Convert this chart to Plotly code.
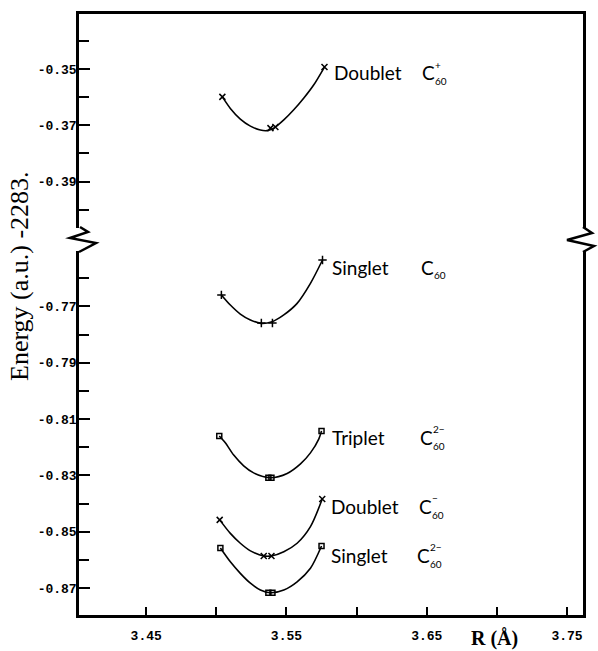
import plotly.graph_objects as go

# ---------------- data ----------------
# computed points (markers)
R_dplus = [3.5043, 3.5386, 3.5421, 3.5771]
E_dplus = [-0.3599, -0.3710, -0.3706, -0.3493]
R_s0 = [3.5036, 3.5321, 3.5400, 3.5757]
E_s0 = [-0.7659, -0.7759, -0.7759, -0.7535]
R_t2 = [3.5021, 3.5371, 3.5393, 3.5750]
E_t2 = [-0.8160, -0.8308, -0.8308, -0.8142]
R_dminus = [3.5024, 3.5338, 3.5393, 3.5755]
E_dminus = [-0.8458, -0.8586, -0.8586, -0.8384]
R_s2 = [3.5029, 3.5371, 3.5400, 3.5750]
E_s2 = [-0.8558, -0.8717, -0.8717, -0.8551]

# fitted curves
Rc_dplus = [3.5043, 3.5100, 3.5171, 3.5243, 3.5314, 3.5362, 3.5410, 3.5481, 3.5552, 3.5624, 3.5695, 3.5771]
Ec_dplus = [-0.3599, -0.3640, -0.3678, -0.3703, -0.3717, -0.3719, -0.3710, -0.3681, -0.3645, -0.3603, -0.3556, -0.3493]
Rc_s0 = [3.5036, 3.5100, 3.5171, 3.5243, 3.5319, 3.5398, 3.5481, 3.5576, 3.5671, 3.5757]
Ec_s0 = [-0.7659, -0.7695, -0.7727, -0.7748, -0.7760, -0.7754, -0.7730, -0.7689, -0.7618, -0.7535]
Rc_t2 = [3.5021, 3.5064, 3.5124, 3.5195, 3.5266, 3.5386, 3.5505, 3.5600, 3.5671, 3.5731, 3.5750]
Ec_t2 = [-0.8160, -0.8184, -0.8228, -0.8266, -0.8291, -0.8308, -0.8293, -0.8259, -0.8220, -0.8170, -0.8142]
Rc_dminus = [3.5024, 3.5100, 3.5171, 3.5243, 3.5338, 3.5393, 3.5481, 3.5576, 3.5671, 3.5755]
Ec_dminus = [-0.8458, -0.8506, -0.8541, -0.8568, -0.8586, -0.8586, -0.8571, -0.8541, -0.8482, -0.8384]
Rc_s2 = [3.5029, 3.5100, 3.5171, 3.5243, 3.5314, 3.5386, 3.5481, 3.5576, 3.5671, 3.5750]
Ec_s2 = [-0.8558, -0.8607, -0.8648, -0.8683, -0.8707, -0.8717, -0.8707, -0.8678, -0.8630, -0.8551]

x_ticks = [3.45, 3.55, 3.65, 3.75]
x_ticktext = ["3.45", "3.55", "3.65", "3.75"]
x_minor = [3.50, 3.60, 3.70]
y_top_ticks = [-0.35, -0.37, -0.39]
y_top_text = ["-0.35", "-0.37", "-0.39"]
y_top_minor = [-0.34, -0.36, -0.38, -0.40]
y_bot_ticks = [-0.77, -0.79, -0.81, -0.83, -0.85, -0.87]
y_bot_text = ["-0.77", "-0.79", "-0.81", "-0.83", "-0.85", "-0.87"]
y_bot_minor = [-0.76, -0.78, -0.80, -0.82, -0.84, -0.86]

# ---------------- figure ----------------
W, H = 598, 651
L, R, T, B = 79, 15, 14, 36
plot_h = H - T - B
def py(y):  # pixel row -> paper y
    return (H - B - y) / plot_h
def px(x):
    return (x - L) / (W - L - R)

top_dom = [py(228), 1.0]
bot_dom = [0.0, py(251)]

fig = go.Figure()

def add(Rc, Ec, Rm, Em, sym, size, yax, xax):
    fig.add_trace(go.Scatter(x=Rc, y=Ec, mode="lines", xaxis=xax, yaxis=yax,
                             line=dict(color="black", width=1.6, shape="spline",
                                       smoothing=0.8),
                             showlegend=False, hoverinfo="skip"))
    fig.add_trace(go.Scatter(x=Rm, y=Em, mode="markers", xaxis=xax, yaxis=yax,
                             marker=dict(symbol=sym, size=size, color="black",
                                         line=dict(color="black", width=1.5)),
                             showlegend=False, hoverinfo="skip"))

add(Rc_dplus, Ec_dplus, R_dplus, E_dplus, "x-thin-open", 6, "y2", "x2")
add(Rc_s0, Ec_s0, R_s0, E_s0, "cross-thin-open", 6, "y", "x")
add(Rc_t2, Ec_t2, R_t2, E_t2, "square-open", 5, "y", "x")
add(Rc_dminus, Ec_dminus, R_dminus, E_dminus, "x-thin-open", 6, "y", "x")
add(Rc_s2, Ec_s2, R_s2, E_s2, "square-open", 5, "y", "x")

axis_line = dict(showline=True, linecolor="black", linewidth=2.5, zeroline=False,
                 showgrid=False, automargin=False)
mono = dict(family="Liberation Mono", size=13, color="black", weight="bold")

fig.update_layout(
    width=W, height=H, margin=dict(l=L, r=R, t=T, b=B, autoexpand=False),
    paper_bgcolor="white", plot_bgcolor="white",
    xaxis=dict(domain=[0, 1], anchor="y", range=[3.4021, 3.7614],
               tickvals=x_ticks, ticktext=x_ticktext, ticks="inside", ticklen=8,
               tickwidth=1.5, tickcolor="black", tickfont=mono,
               ticklabelstandoff=7,
               minor=dict(tickvals=x_minor, ticks="inside", ticklen=8, tickwidth=1.5,
                          tickcolor="black"),
               **axis_line),
    xaxis2=dict(domain=[0, 1], anchor="y2", matches="x", side="top",
                showticklabels=False, ticks="", **axis_line),
    yaxis=dict(domain=bot_dom, anchor="x", range=[-0.87959, -0.75030],
               tickvals=y_bot_ticks, ticktext=y_bot_text, ticks="inside", ticklen=11,
               tickwidth=1.5, tickcolor="black", tickfont=mono, mirror=True,
               ticklabelstandoff=-3,
               minor=dict(tickvals=y_bot_minor, ticks="inside", ticklen=10,
                          tickwidth=1.5, tickcolor="black"),
               **axis_line),
    yaxis2=dict(domain=top_dom, anchor="x2", range=[-0.40648, -0.33046],
                tickvals=y_top_ticks, ticktext=y_top_text, ticks="inside", ticklen=11,
                tickwidth=1.5, tickcolor="black", tickfont=mono, mirror=True,
                ticklabelstandoff=-3,
                minor=dict(tickvals=y_top_minor, ticks="inside", ticklen=10,
                           tickwidth=1.5, tickcolor="black"),
                **axis_line),
)

# axis-break zigzags
def zig(points):
    d = "M " + " L ".join(f"{px(a):.4f},{py(b):.4f}" for a, b in points)
    return dict(type="path", path=d, xref="paper", yref="paper",
                line=dict(color="black", width=2.5))

fig.add_shape(zig([(80, 227), (88, 232), (70, 238), (96, 243), (79, 252)]))
fig.add_shape(zig([(583, 227), (592, 233), (567, 240), (594, 246), (583, 252)]))

# axis titles
fig.add_annotation(text="Energy (a.u.) -2283.", x=px(20), y=py(276), xref="paper",
                   yref="paper", textangle=-90, showarrow=False, xanchor="center",
                   yanchor="middle",
                   font=dict(family="Liberation Serif", size=26, color="black"))
fig.add_annotation(text="<b>R (Å)</b>", x=px(494), y=py(651), xref="paper",
                   yref="paper", xanchor="center", yanchor="bottom", showarrow=False,
                   borderpad=0,
                   font=dict(family="Liberation Serif", size=20, color="black"))

# curve labels
lab = dict(family="Lato", size=19, color="black")
small = dict(family="Lato", size=10, color="black")

def label(word, xw, yw, xc, sub_y, sup, sup_y, yref):
    fig.add_annotation(text=word, x=xw, y=yw, xref="x", yref=yref, xanchor="left",
                       showarrow=False, font=lab, borderpad=0)
    fig.add_annotation(text="C", x=xc, y=yw, xref="x", yref=yref, xanchor="left",
                       showarrow=False, font=lab, borderpad=0)
    fig.add_annotation(text="60", x=xc + 0.0092, y=sub_y, xref="x", yref=yref,
                       xanchor="left", showarrow=False, font=small, borderpad=0)
    if sup:
        fig.add_annotation(text=sup, x=xc + 0.0094, y=sup_y, xref="x", yref=yref,
                           xanchor="left", showarrow=False, font=small, borderpad=0)

label("Doublet", 3.583, -0.3514, 3.6458, -0.3543, "+", -0.3486, "y2")
label("Singlet", 3.5815, -0.7560, 3.6450, -0.7589, None, None, "y")
label("Triplet", 3.5815, -0.8164, 3.6444, -0.8194, "2−", -0.8134, "y")
label("Doublet", 3.5808, -0.8412, 3.6437, -0.8440, "−", -0.8380, "y")
label("Singlet", 3.5808, -0.8586, 3.6423, -0.8614, "2−", -0.8554, "y")

fig.write_html("out.html")
